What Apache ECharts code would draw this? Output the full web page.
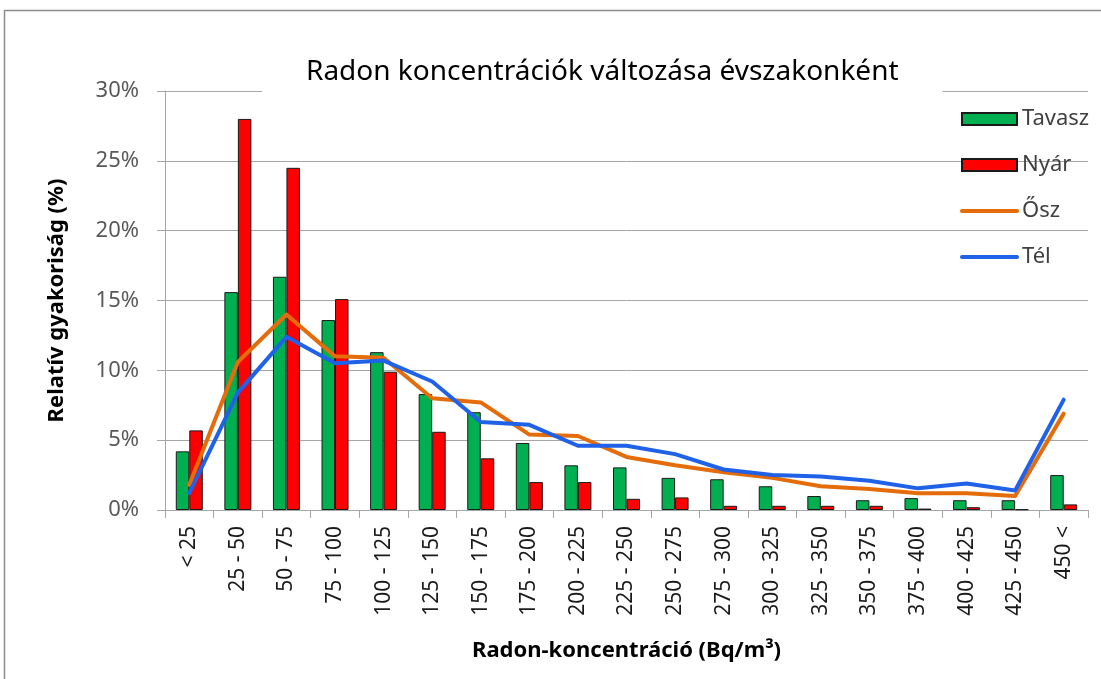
<!DOCTYPE html>
<html>
<head>
<meta charset="utf-8">
<script src="https://cdn.jsdelivr.net/npm/echarts@6/dist/echarts.min.js"></script>
<style>
  html, body { margin: 0; padding: 0; background: #fff; }
  #chart { width: 1101px; height: 679px; }
</style>
</head>
<body>
<div id="chart"></div>
<script>
// Radon koncentráció kategóriák (Bq/m3)
var categories = ['< 25', '25 - 50', '50 - 75', '75 - 100', '100 - 125', '125 - 150', '150 - 175',
  '175 - 200', '200 - 225', '225 - 250', '250 - 275', '275 - 300', '300 - 325', '325 - 350',
  '350 - 375', '375 - 400', '400 - 425', '425 - 450', '450 <'];

// relatív gyakoriság (%) évszakonként
var tavasz = [4.2, 15.6, 16.7, 13.6, 11.3, 8.3, 7.0, 4.8, 3.2, 3.05, 2.3, 2.2, 1.7, 1.0, 0.7, 0.85, 0.7, 0.7, 2.5];
var nyar   = [5.7, 28.0, 24.5, 15.1, 9.9, 5.6, 3.7, 2.0, 2.0, 0.8, 0.9, 0.3, 0.3, 0.3, 0.3, 0.1, 0.2, 0.05, 0.4];
var osz    = [1.8, 10.6, 14.0, 11.0, 10.9, 8.0, 7.7, 5.4, 5.3, 3.8, 3.2, 2.7, 2.3, 1.7, 1.5, 1.2, 1.2, 1.0, 6.9];
var tel    = [1.2, 8.4, 12.4, 10.5, 10.7, 9.2, 6.3, 6.1, 4.6, 4.6, 4.0, 2.9, 2.5, 2.4, 2.1, 1.55, 1.9, 1.4, 7.9];

var yTicks = { min: 0, max: 30, interval: 5 };

var font = 'Noto Sans';
var gridColor = '#a6a6a6';
var orange = '#e46c0a';
var blue = '#1f62e8';

var chart = echarts.init(document.getElementById('chart'));
chart.setOption({
  backgroundColor: '#fff',
  textStyle: { fontFamily: font },
  graphic: [{
    type: 'rect',
    silent: true,
    z: -1,
    shape: { x: 4.5, y: 10.5, width: 1200, height: 1000 },
    style: { fill: 'none', stroke: '#8c8c8c', lineWidth: 1.5 }
  }],
  title: {
    text: 'Radon koncentrációk változása évszakonként',
    left: 262,
    top: 54,
    padding: [4, 44, 6, 44],
    backgroundColor: '#fff',
    textStyle: { fontFamily: font, fontSize: 28, fontWeight: 'normal', color: '#000' }
  },
  legend: {
    orient: 'vertical',
    left: 955,
    top: 102,
    itemWidth: 55,
    itemHeight: 12,
    itemGap: 22,
    textStyle: { fontFamily: font, fontSize: 22, color: '#404040', lineHeight: 24 },
    data: [
      { name: 'Tavasz', icon: 'rect' },
      { name: 'Nyár', icon: 'rect' },
      { name: 'Ősz', itemStyle: { opacity: 0 }, lineStyle: { width: 4, color: orange, cap: 'round' } },
      { name: 'Tél', itemStyle: { opacity: 0 }, lineStyle: { width: 4, color: blue, cap: 'round' } }
    ]
  },
  grid: { left: 165, right: 13, top: 91, bottom: 169, containLabel: false },
  xAxis: {
    type: 'category',
    data: categories,
    name: 'Radon-koncentráció (Bq/m³)',
    nameLocation: 'middle',
    nameGap: 130,
    nameTextStyle: { fontFamily: font, fontSize: 22, fontWeight: 'bold', color: '#000' },
    axisLine: { lineStyle: { color: gridColor, width: 1 } },
    axisTick: { show: true, interval: 0, length: 8, lineStyle: { color: gridColor } },
    axisLabel: { interval: 0, rotate: 90, margin: 16, fontSize: 21, color: '#1a1a1a', fontFamily: font }
  },
  yAxis: {
    type: 'value',
    min: yTicks.min,
    max: yTicks.max,
    interval: yTicks.interval,
    name: 'Relatív gyakoriság (%)',
    nameLocation: 'middle',
    nameGap: 97,
    nameTextStyle: { fontFamily: font, fontSize: 22, fontWeight: 'bold', color: '#000' },
    axisLine: { show: true, lineStyle: { color: gridColor, width: 1 } },
    axisTick: { show: true, length: 8, lineStyle: { color: gridColor } },
    splitLine: { lineStyle: { color: gridColor, width: 1 } },
    axisLabel: { formatter: '{value}%', margin: 26, fontSize: 22, color: '#595959', fontFamily: font }
  },
  series: [
    {
      name: 'Tavasz',
      type: 'bar',
      data: tavasz,
      barWidth: 13.5,
      barGap: '0%',
      itemStyle: { color: '#00b050', borderColor: '#1a1a1a', borderWidth: 1 }
    },
    {
      name: 'Nyár',
      type: 'bar',
      data: nyar,
      barWidth: 13.5,
      barGap: '0%',
      itemStyle: { color: '#ff0000', borderColor: '#1a1a1a', borderWidth: 1 }
    },
    {
      name: 'Ősz',
      type: 'line',
      data: osz,
      symbol: 'none',
      lineStyle: { color: orange, width: 4, join: 'round', cap: 'round' },
      itemStyle: { color: orange }
    },
    {
      name: 'Tél',
      type: 'line',
      data: tel,
      symbol: 'none',
      lineStyle: { color: blue, width: 4, join: 'round', cap: 'round' },
      itemStyle: { color: blue }
    }
  ]
});
</script>
</body>
</html>
